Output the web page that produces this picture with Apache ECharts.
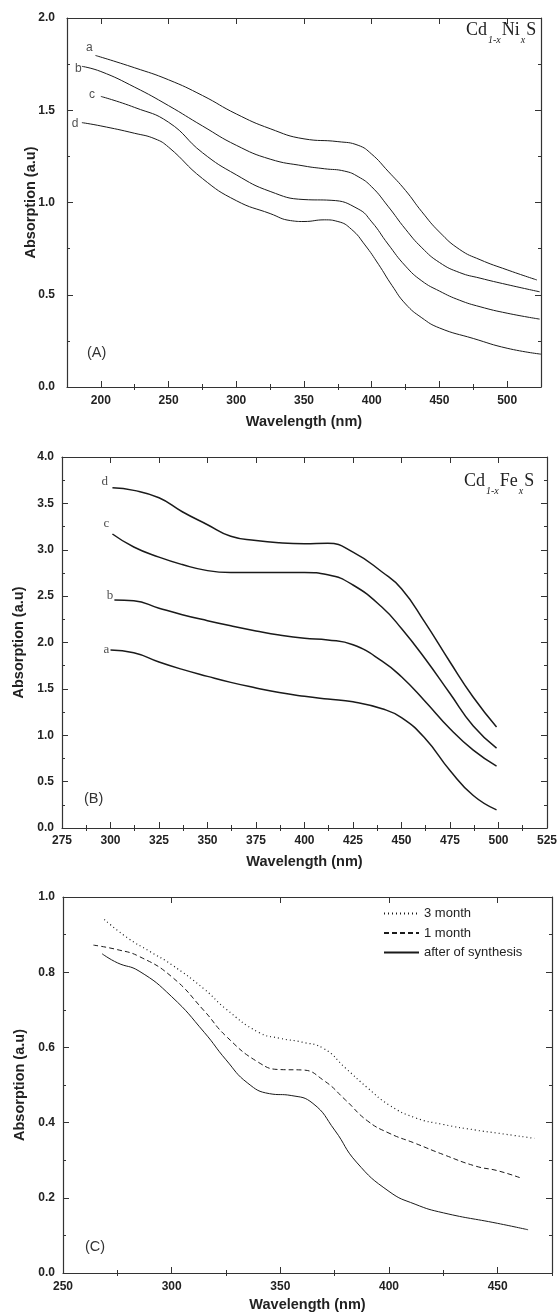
<!DOCTYPE html>
<html><head><meta charset="utf-8">
<script src="https://cdn.jsdelivr.net/npm/echarts@6/dist/echarts.min.js"></script>
<style>html,body{margin:0;padding:0;background:#fff}#c{width:560px;height:1313px}</style>
</head><body><div id="c"></div>
<script>
// ---------- Panel A : Cd1-xNixS ----------
const A_a_x = [196, 225, 250, 275, 300, 325, 350, 375, 390, 400, 412, 425, 437, 450, 465, 480, 500, 522];
const A_a_y = [1.797, 1.73, 1.665, 1.58, 1.48, 1.40, 1.345, 1.33, 1.31, 1.262, 1.17, 1.065, 0.95, 0.84, 0.745, 0.69, 0.635, 0.58];
const A_b_x = [186, 200, 225, 250, 275, 300, 325, 350, 365, 380, 390, 400, 412, 425, 437, 450, 465, 480, 500, 524];
const A_b_y = [1.738, 1.71, 1.625, 1.525, 1.415, 1.31, 1.235, 1.198, 1.183, 1.17, 1.14, 1.085, 0.98, 0.855, 0.755, 0.675, 0.62, 0.59, 0.555, 0.516];
const A_c_x = [200, 225, 250, 275, 300, 325, 350, 370, 390, 400, 412, 425, 437, 450, 465, 480, 500, 524];
const A_c_y = [1.575, 1.515, 1.435, 1.27, 1.15, 1.06, 1.016, 1.012, 0.965, 0.895, 0.775, 0.655, 0.575, 0.52, 0.47, 0.435, 0.40, 0.368];
const A_d_x = [186, 200, 225, 240, 250, 275, 300, 325, 340, 350, 365, 375, 385, 395, 405, 415, 425, 437, 450, 475, 500, 525];
const A_d_y = [1.433, 1.415, 1.375, 1.345, 1.30, 1.13, 1.01, 0.94, 0.902, 0.897, 0.906, 0.897, 0.855, 0.77, 0.665, 0.55, 0.45, 0.375, 0.32, 0.263, 0.21, 0.178];
const A_names = ['a', 'b', 'c', 'd'];
const A_labelPos = [[191.5, 1.84], [183.3, 1.725], [193.4, 1.585], [181, 1.428]];
const A_xMajor = [200, 250, 300, 350, 400, 450, 500];
const A_xMinor = [225, 275, 325, 375, 425, 475];
const A_yMajor = [0, 0.5, 1.0, 1.5, 2.0];
const A_yMinor = [0.25, 0.75, 1.25, 1.75];

// ---------- Panel B : Cd1-xFexS ----------
const B_a_x = [300, 312, 325, 337, 350, 362, 375, 387, 400, 412, 425, 440, 450, 462, 475, 487, 499];
const B_a_y = [1.918, 1.89, 1.79, 1.71, 1.635, 1.57, 1.51, 1.46, 1.42, 1.39, 1.36, 1.285, 1.19, 0.97, 0.62, 0.35, 0.195];
const B_b_x = [302, 312, 325, 337, 350, 362, 375, 387, 400, 412, 425, 440, 450, 462, 475, 487, 499];
const B_b_y = [2.457, 2.45, 2.37, 2.30, 2.235, 2.18, 2.125, 2.08, 2.045, 2.028, 1.975, 1.80, 1.63, 1.37, 1.07, 0.84, 0.668];
const B_c_x = [301, 312, 325, 337, 350, 362, 375, 400, 412, 425, 440, 450, 462, 475, 487, 499];
const B_c_y = [3.17, 3.03, 2.92, 2.84, 2.775, 2.755, 2.755, 2.755, 2.73, 2.62, 2.38, 2.15, 1.83, 1.45, 1.10, 0.862];
const B_d_x = [301, 312, 325, 337, 350, 362, 375, 387, 400, 412, 425, 440, 450, 462, 475, 487, 499];
const B_d_y = [3.668, 3.64, 3.56, 3.41, 3.27, 3.145, 3.10, 3.075, 3.065, 3.07, 2.975, 2.76, 2.58, 2.22, 1.79, 1.41, 1.09];
const B_names = ['a', 'b', 'c', 'd'];
const B_labelPos = [[297.9, 1.924], [299.7, 2.509], [297.9, 3.285], [297, 3.73]];
const B_xMajor = [275, 300, 325, 350, 375, 400, 425, 450, 475, 500, 525];
const B_xMinor = [287.5, 312.5, 337.5, 362.5, 387.5, 412.5, 437.5, 462.5, 487.5, 512.5];
const B_yMajor = [0, 0.5, 1.0, 1.5, 2.0, 2.5, 3.0, 3.5, 4.0];
const B_yMinor = [0.25, 0.75, 1.25, 1.75, 2.25, 2.75, 3.25, 3.75];

// ---------- Panel C : ageing ----------
const C_names = ['3 month', '1 month', 'after of synthesis'];
const C_3m_x = [269, 280, 290, 300, 315, 325, 340, 350, 360, 370, 380, 390, 400, 412, 425, 440, 450, 467];
const C_3m_y = [0.94, 0.89, 0.855, 0.82, 0.755, 0.702, 0.64, 0.624, 0.614, 0.597, 0.545, 0.493, 0.447, 0.413, 0.395, 0.38, 0.372, 0.358];
const C_1m_x = [264, 275, 285, 300, 315, 325, 340, 350, 360, 370, 380, 390, 400, 412, 425, 440, 450, 461];
const C_1m_y = [0.872, 0.86, 0.842, 0.788, 0.697, 0.63, 0.56, 0.541, 0.54, 0.512, 0.46, 0.405, 0.372, 0.345, 0.315, 0.284, 0.272, 0.252];
const C_0_x = [268, 275, 285, 300, 315, 325, 335, 345, 355, 365, 375, 385, 400, 412, 425, 450, 464];
const C_0_y = [0.849, 0.825, 0.803, 0.735, 0.64, 0.567, 0.505, 0.477, 0.472, 0.451, 0.38, 0.295, 0.217, 0.183, 0.16, 0.132, 0.115];
const C_xMajor = [250, 300, 350, 400, 450];
const C_xMinor = [275, 325, 375, 425, 475];
const C_yMajor = [0, 0.2, 0.4, 0.6, 0.8, 1.0];
const C_yMinor = [0.1, 0.3, 0.5, 0.7, 0.9];

// ---------- build ----------
const SANS = '"Liberation Sans", Arial, sans-serif';
const SERIF = '"Liberation Serif", "Times New Roman", serif';
const AXC = '#333';
const zip = (xs, ys) => xs.map((x, i) => [x, ys[i]]);

function axesFor(dim, g, min, max, majors, minors, o) {
  const base = { gridIndex: g, type: 'value', min: min, max: max, splitLine: { show: false },
    axisLine: { show: true, onZero: false, lineStyle: { color: AXC, width: 1.2 } } };
  const p1 = dim === 'x' ? 'bottom' : 'left';
  const p2 = dim === 'x' ? 'top' : 'right';
  const tk = (vals, len) => ({ show: true, inside: true, length: len, customValues: vals, lineStyle: { color: AXC, width: 1 } });
  return [
    Object.assign({}, base, { position: p1, axisTick: tk(majors, 6),
      axisLabel: { show: true, customValues: majors, margin: o.margin, fontFamily: SANS, fontWeight: 'bold', fontSize: 12, color: '#222', formatter: o.fmt },
      name: o.name, nameLocation: 'middle', nameGap: o.nameGap, nameMoveOverlap: false,
      nameTextStyle: { fontFamily: SANS, fontWeight: 'bold', fontSize: 14.5, color: '#222' } }),
    Object.assign({}, base, { position: p1, axisLine: { show: false }, axisTick: tk(minors, 3), axisLabel: { show: false } }),
    Object.assign({}, base, { position: p2, axisTick: tk(majors, 6), axisLabel: { show: false } }),
    Object.assign({}, base, { position: p2, axisLine: { show: false }, axisTick: tk(minors, 3), axisLabel: { show: false } })
  ];
}
const f1 = v => v.toFixed(1);
const f0 = v => String(Math.round(v));

const xAxis = [].concat(
  axesFor('x', 0, 175, 525, A_xMajor, A_xMinor, { margin: 8, fmt: f0, name: 'Wavelength (nm)', nameGap: 27 }),
  axesFor('x', 1, 275, 525, B_xMajor, B_xMinor, { margin: 7, fmt: f0, name: 'Wavelength (nm)', nameGap: 26 }),
  axesFor('x', 2, 250, 475, C_xMajor, C_xMinor, { margin: 8, fmt: f0, name: 'Wavelength (nm)', nameGap: 24 })
);
const yAxis = [].concat(
  axesFor('y', 0, 0, 2, A_yMajor, A_yMinor, { margin: 12, fmt: f1, name: 'Absorption (a.u)', nameGap: 29 }),
  axesFor('y', 1, 0, 4, B_yMajor, B_yMinor, { margin: 8, fmt: f1, name: 'Absorption (a.u)', nameGap: 36 }),
  axesFor('y', 2, 0, 1, C_yMajor, C_yMinor, { margin: 8, fmt: f1, name: 'Absorption (a.u)', nameGap: 36 })
);

function curve(g, name, xs, ys, width, type) {
  return { type: 'line', name: name, xAxisIndex: g * 4, yAxisIndex: g * 4, data: zip(xs, ys),
    smooth: 0.5, showSymbol: false, symbol: 'none', silent: true, animation: false,
    lineStyle: { color: '#1a1a1a', width: width, type: type || 'solid' }, itemStyle: { color: '#1a1a1a', opacity: 0 } };
}
function tags(g, names, pos, font, size) {
  return { type: 'scatter', xAxisIndex: g * 4, yAxisIndex: g * 4, symbolSize: 0, silent: true, animation: false,
    data: pos.map((p, i) => [p[0], p[1], names[i]]),
    label: { show: true, position: 'inside', formatter: p => p.data[2], fontFamily: font, fontSize: size, color: '#222' } };
}

const series = [
  curve(0, 'A_a', A_a_x, A_a_y, 1), curve(0, 'A_b', A_b_x, A_b_y, 1),
  curve(0, 'A_c', A_c_x, A_c_y, 1), curve(0, 'A_d', A_d_x, A_d_y, 1),
  tags(0, A_names, A_labelPos, SANS, 12),
  curve(1, 'B_a', B_a_x, B_a_y, 1.5), curve(1, 'B_b', B_b_x, B_b_y, 1.5),
  curve(1, 'B_c', B_c_x, B_c_y, 1.5), curve(1, 'B_d', B_d_x, B_d_y, 1.5),
  tags(1, B_names, B_labelPos, SERIF, 13),
  curve(2, C_names[0], C_3m_x, C_3m_y, 1.2, [1, 3]),
  curve(2, C_names[1], C_1m_x, C_1m_y, 1, [5, 3]),
  curve(2, C_names[2], C_0_x, C_0_y, 1)
];

const formula = (metal) => ({
  text: '{n|Cd}{s|1-x}{n|' + metal + '}{s|x}{n|S}',
  rich: {
    n: { fontFamily: SERIF, fontSize: 18, lineHeight: 20, verticalAlign: 'top', fill: '#222' },
    s: { fontFamily: SERIF, fontSize: 10, fontStyle: 'italic', lineHeight: 10, padding: [14, 1, 0, 1], verticalAlign: 'top', fill: '#222' }
  }
});

const option = {
  backgroundColor: '#fff',
  animation: false,
  grid: [
    { left: 67, top: 18, width: 474, height: 369 },
    { left: 62, top: 457, width: 487, height: 371 },
    { left: 63, top: 897, width: 489, height: 376 }
  ],
  xAxis: xAxis,
  yAxis: yAxis,
  legend: {
    data: C_names, orient: 'vertical', left: 383, top: 907, padding: 0, itemWidth: 35, itemHeight: 12, itemGap: 6.5,
    itemStyle: { opacity: 0 },
    textStyle: { fontFamily: SANS, fontSize: 13, color: '#222' }, selectedMode: false
  },
  series: series,
  graphic: [
    { type: 'text', left: 466, top: 21, style: formula('Ni') },
    { type: 'text', left: 464, top: 472, style: formula('Fe') },
    { type: 'text', left: 87, top: 345, style: { text: '(A)', fontFamily: SANS, fontSize: 14.5, fill: '#333' } },
    { type: 'text', left: 84, top: 791, style: { text: '(B)', fontFamily: SANS, fontSize: 14.5, fill: '#333' } },
    { type: 'text', left: 85, top: 1239, style: { text: '(C)', fontFamily: SANS, fontSize: 14.5, fill: '#333' } }
  ]
};
const chart = echarts.init(document.getElementById('c'));
chart.setOption(option);
</script></body></html>
